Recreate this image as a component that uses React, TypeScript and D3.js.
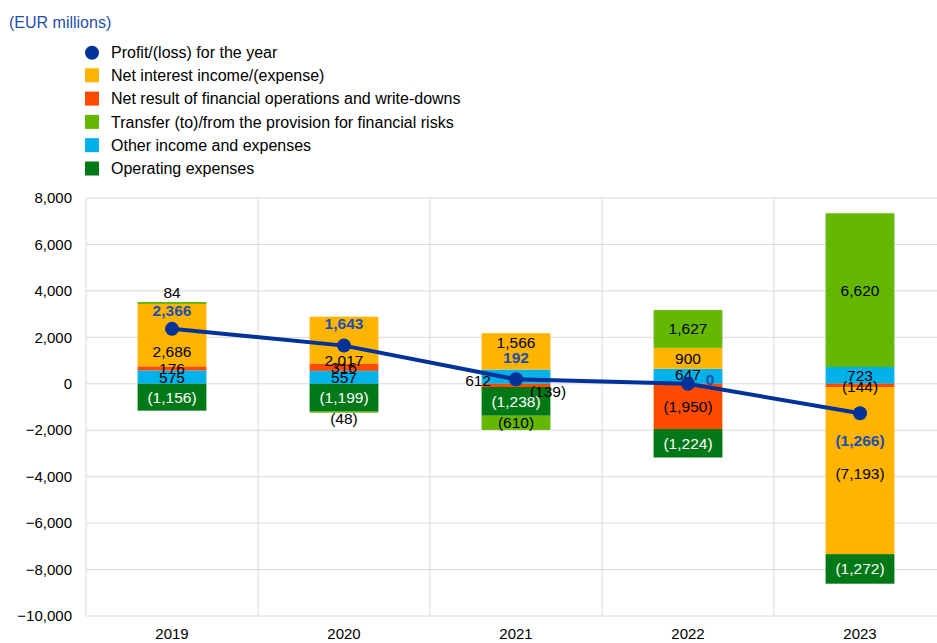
import React from "react";
import * as d3 from "d3";

const years = ["2019", "2020", "2021", "2022", "2023"];
const netInterest = [2686, 2017, 1566, 900, -7193];
const netFinancial = [176, 316, -139, -1950, -144];
const provision = [84, -48, -610, 1627, 6620];
const otherIncome = [575, 557, 612, 647, 723];
const operatingExp = [-1156, -1199, -1238, -1224, -1272];
const profit = [2366, 1643, 192, 0, -1266];
const yTicks = [-10000, -8000, -6000, -4000, -2000, 0, 2000, 4000, 6000, 8000];

const seriesDefs = [
  { key: "other", name: "Other income and expenses", values: otherIncome, color: "#00B1EA", text: "#000" },
  { key: "netfin", name: "Net result of financial operations and write-downs", values: netFinancial, color: "#FF4B00", text: "#000" },
  { key: "nii", name: "Net interest income/(expense)", values: netInterest, color: "#FFB400", text: "#000" },
  { key: "opex", name: "Operating expenses", values: operatingExp, color: "#007816", text: "#fff" },
  { key: "prov", name: "Transfer (to)/from the provision for financial risks", values: provision, color: "#65B800", text: "#000" },
];

const legendOrder = ["nii", "netfin", "prov", "other", "opex"];

// label nudges (pixels) for crowded segments
const labelNudge: Record<string, { dx?: number; dy?: number; anchor?: string; outside?: "top" | "bottom" }> = {
  "2019|prov": { outside: "top" },
  "2019|nii": { dy: 16 },
  "2020|nii": { dy: 20 },
  "2020|prov": { outside: "bottom" },
  "2021|nii": { dy: -9 },
  "2021|other": { dx: -25, dy: 4, anchor: "end" },
  "2021|netfin": { dx: 32, dy: 6 },
  "2022|other": { dy: -2 },
  "2023|netfin": { dy: 1 },
  "2023|nii": { dy: 3 },
};
const profitNudge = [
  { dx: 0, dy: -18 },
  { dx: 0, dy: -22 },
  { dx: 0, dy: -22 },
  { dx: 22, dy: -4 },
  { dx: 0, dy: 27 },
];

const fmt = (v: number) => {
  const s = d3.format(",")(Math.abs(v));
  return v < 0 ? `(${s})` : s;
};

export default function App() {
  const W = 937, H = 643;
  const left = 86, right = 946, top = 198, bottom = 616;
  const x = d3.scaleBand().domain(years).range([left, right]).paddingInner(0).paddingOuter(0);
  const y = d3.scaleLinear().domain([-10000, 8000]).range([bottom, top]);
  const barW = x.bandwidth() * 0.4;

  const table = years.map((yr, i) => {
    const row: any = { year: yr };
    seriesDefs.forEach((s) => (row[s.key] = s.values[i]));
    return row;
  });
  const stack = d3.stack<any>().keys(seriesDefs.map((s) => s.key)).offset(d3.stackOffsetDiverging);
  const stacked = stack(table);

  const font = "'Liberation Sans', Arial, sans-serif";
  const cx = (yr: string) => (x(yr) as number) + x.bandwidth() / 2;

  const line = d3
    .line<number>()
    .x((_, i) => cx(years[i]))
    .y((d) => y(d));

  return (
    <svg width={W} height={H} style={{ position: "absolute", left: 0, top: 0 }} fontFamily={font}>
      <rect x={0} y={0} width={W} height={H} fill="#fff" />
      <text x={9} y={22.5} dy="0.35em" fontSize={16} fill="#1F4FA8">(EUR millions)</text>
      {/* legend */}
      <g>
        <circle cx={92} cy={52.7} r={7} fill="#003299" />
        <text x={111} y={52.7} dy="0.35em" fontSize={16} fill="#000">Profit/(loss) for the year</text>
        {legendOrder.map((k, i) => {
          const s = seriesDefs.find((d) => d.key === k)!;
          const cy = 75.3 + i * 23.3;
          return (
            <g key={k}>
              <rect x={85} y={cy - 7} width={14} height={14} fill={s.color} />
              <text x={111} y={cy} dy="0.35em" fontSize={16} fill="#000">{s.name}</text>
            </g>
          );
        })}
      </g>
      {/* grid */}
      {yTicks.map((t) => (
        <g key={t}>
          <line x1={left} x2={W} y1={y(t)} y2={y(t)} stroke="#D9D9D9" strokeWidth={1} />
          <text x={72} y={y(t)} dy="0.35em" textAnchor="end" fontSize={15} fill="#000">{d3.format(",")(t)}</text>
        </g>
      ))}
      {years.map((yr) => (
        <line key={yr} x1={x(yr)} x2={x(yr)} y1={top} y2={bottom} stroke="#D9D9D9" strokeWidth={1} />
      ))}
      {years.map((yr) => (
        <text key={yr} x={cx(yr)} y={634} dy="0.35em" textAnchor="middle" fontSize={15} fill="#000">{yr}</text>
      ))}
      {/* bars */}
      {stacked.map((layer) => {
        const s = seriesDefs.find((d) => d.key === layer.key)!;
        return (
          <g key={layer.key}>
            {layer.map((d, i) => {
              const y0 = y(Math.max(d[0], d[1]));
              const y1 = y(Math.min(d[0], d[1]));
              return (
                <rect key={i} x={cx(years[i]) - barW / 2} y={y0} width={barW} height={Math.max(0, y1 - y0)} fill={s.color} />
              );
            })}
          </g>
        );
      })}
      {/* segment labels */}
      {stacked.map((layer) => {
        const s = seriesDefs.find((d) => d.key === layer.key)!;
        return (
          <g key={layer.key}>
            {layer.map((d, i) => {
              const yr = years[i];
              const v = s.values[i];
              const n = labelNudge[`${yr}|${s.key}`] || {};
              const yTop = y(Math.max(d[0], d[1]));
              const yBot = y(Math.min(d[0], d[1]));
              let ly = (yTop + yBot) / 2;
              if (n.outside === "top") ly = yTop - 9;
              if (n.outside === "bottom") ly = yBot + 6;
              const fill = n.outside || n.anchor || n.dx ? "#000" : s.text;
              return (
                <text key={i} x={cx(yr) + (n.dx || 0)} y={ly + (n.dy || 0)} dy="0.35em" textAnchor={(n.anchor as any) || "middle"} fontSize={15.5} fill={fill}>
                  {fmt(v)}
                </text>
              );
            })}
          </g>
        );
      })}
      {/* profit line */}
      <path d={line(profit) || ""} fill="none" stroke="#003299" strokeWidth={4} />
      {profit.map((p, i) => (
        <circle key={i} cx={cx(years[i])} cy={y(p)} r={7} fill="#003299" />
      ))}
      {profit.map((p, i) => (
        <text key={i} x={cx(years[i]) + profitNudge[i].dx} y={y(p) + profitNudge[i].dy} dy="0.35em" textAnchor="middle" fontSize={15.5} fontWeight="bold" fill="#1F4FA8">
          {fmt(p)}
        </text>
      ))}
    </svg>
  );
}
